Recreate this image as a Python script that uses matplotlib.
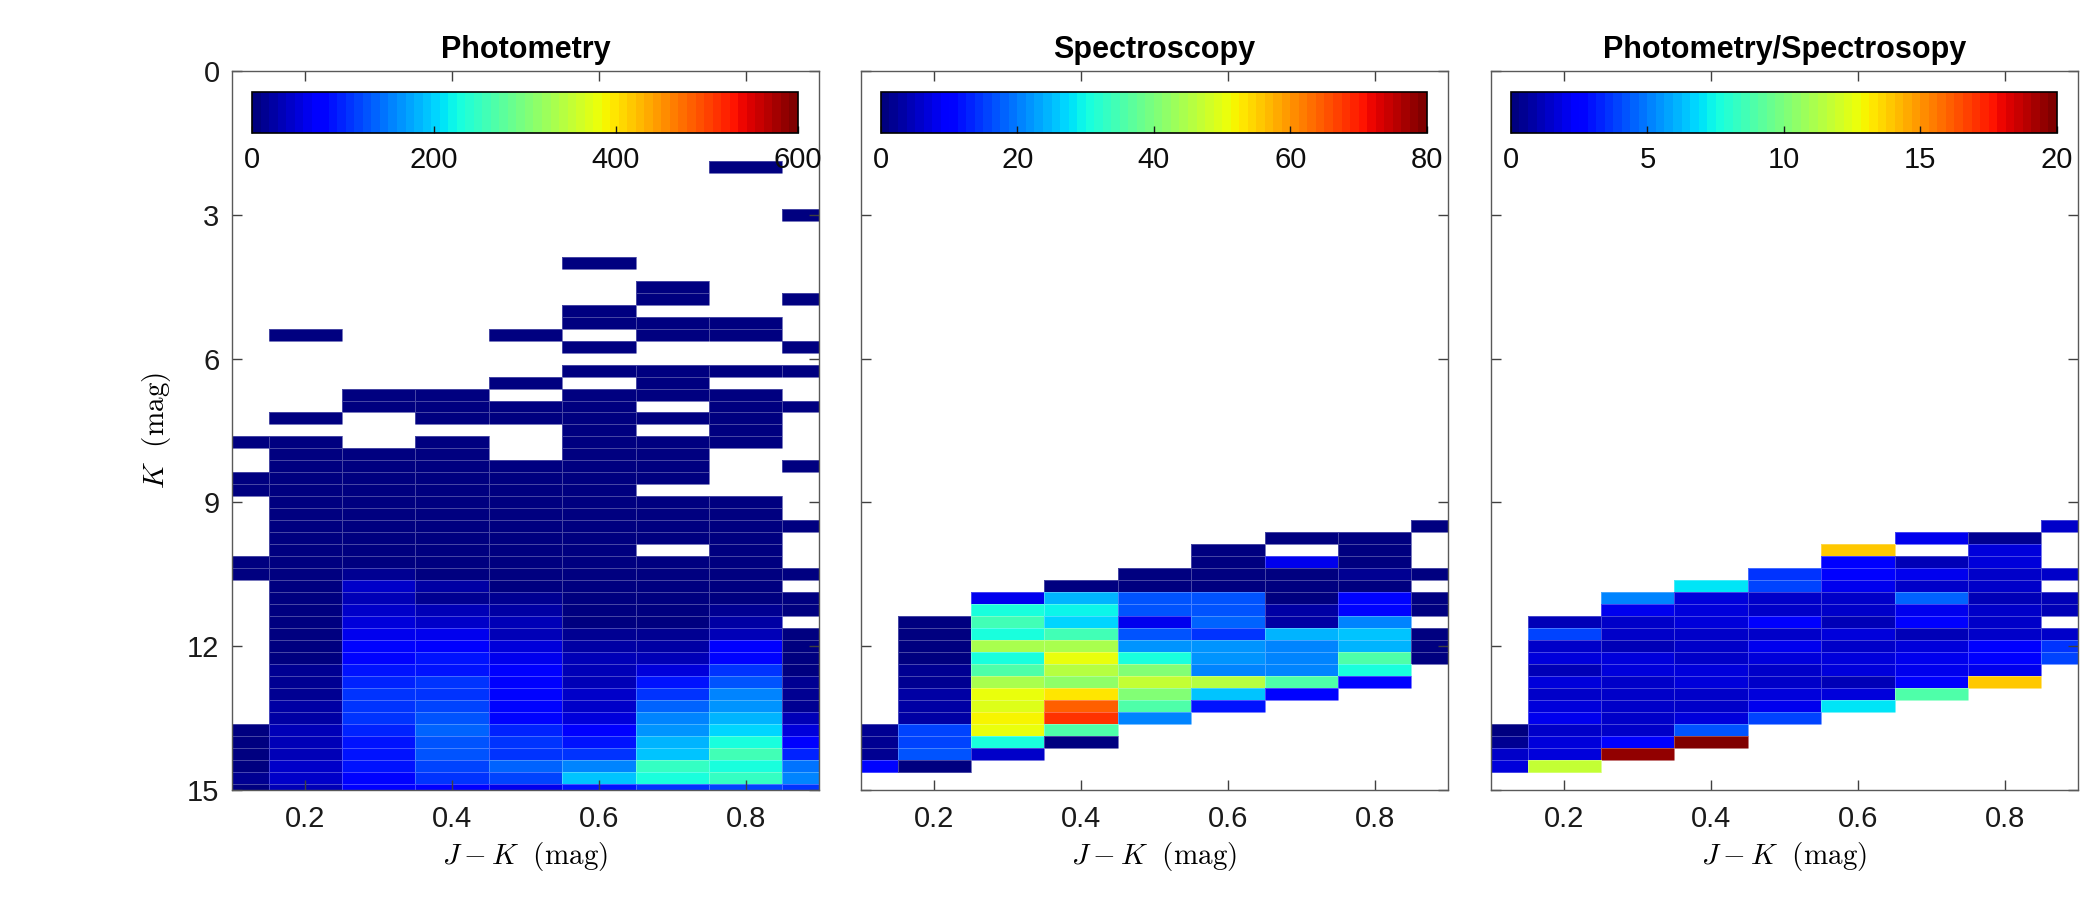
import numpy as np
import matplotlib
matplotlib.use('Agg')
import matplotlib.pyplot as plt

plt.rcParams['font.family'] = ['Liberation Sans', 'DejaVu Sans']
plt.rcParams['mathtext.fontset'] = 'cm'

# J-K colour bins (0.1 wide) and K magnitude bins (0.25 wide), given as bin centres
jk_centers = [0.1, 0.2, 0.3, 0.4, 0.5, 0.6, 0.7, 0.8, 0.9]
k_centers_phot = list(np.arange(2.0, 15.01, 0.25))
k_centers_spec = list(np.arange(9.5, 14.51, 0.25))

# counts per cell (rows = K bins, cols = J-K bins); 0 = empty cell
photometry = [
    [0, 0, 0, 0, 0, 0, 0, 5, 0],        # 2.00
    [0, 0, 0, 0, 0, 0, 0, 0, 0],
    [0, 0, 0, 0, 0, 0, 0, 0, 0],
    [0, 0, 0, 0, 0, 0, 0, 0, 0],
    [0, 0, 0, 0, 0, 0, 0, 0, 5],        # 3.00
    [0, 0, 0, 0, 0, 0, 0, 0, 0],
    [0, 0, 0, 0, 0, 0, 0, 0, 0],
    [0, 0, 0, 0, 0, 0, 0, 0, 0],
    [0, 0, 0, 0, 0, 5, 0, 0, 0],        # 4.00
    [0, 0, 0, 0, 0, 0, 0, 0, 0],
    [0, 0, 0, 0, 0, 0, 5, 0, 0],
    [0, 0, 0, 0, 0, 0, 5, 0, 5],
    [0, 0, 0, 0, 0, 5, 0, 0, 0],        # 5.00
    [0, 0, 0, 0, 0, 5, 5, 5, 0],
    [0, 5, 0, 0, 5, 0, 5, 5, 0],
    [0, 0, 0, 0, 0, 5, 0, 0, 5],
    [0, 0, 0, 0, 0, 0, 0, 0, 0],        # 6.00
    [0, 0, 0, 0, 0, 5, 5, 5, 5],
    [0, 0, 0, 0, 5, 0, 5, 0, 0],
    [0, 0, 5, 5, 0, 5, 5, 5, 0],
    [0, 0, 5, 5, 5, 5, 0, 5, 5],        # 7.00
    [0, 5, 0, 5, 5, 5, 5, 5, 0],
    [0, 0, 0, 0, 0, 5, 0, 5, 0],
    [5, 5, 0, 5, 0, 5, 5, 5, 0],
    [0, 5, 5, 5, 0, 5, 5, 0, 0],        # 8.00
    [0, 5, 5, 5, 5, 5, 5, 0, 5],
    [5, 5, 5, 5, 5, 5, 5, 0, 0],
    [5, 5, 5, 5, 5, 5, 0, 0, 0],
    [0, 6, 6, 6, 6, 6, 6, 5, 0],        # 9.00
    [0, 6, 6, 6, 6, 6, 6, 5, 0],
    [0, 6, 7, 7, 6, 6, 6, 5, 5],
    [0, 7, 7, 7, 7, 6, 6, 6, 0],
    [0, 7, 8, 8, 7, 7, 0, 6, 0],        # 10.00
    [5, 7, 9, 8, 7, 7, 6, 6, 0],
    [5, 8, 15, 9, 8, 7, 7, 6, 5],
    [0, 8, 40, 22, 8, 8, 7, 7, 0],
    [0, 8, 30, 15, 15, 8, 8, 8, 5],     # 11.00
    [0, 8, 45, 37, 22, 8, 8, 15, 5],
    [0, 8, 52, 45, 30, 8, 8, 22, 0],
    [0, 8, 60, 60, 37, 15, 15, 37, 8],
    [0, 8, 75, 67, 50, 22, 22, 67, 5],  # 12.00
    [0, 8, 82, 90, 60, 30, 37, 82, 8],
    [0, 15, 90, 90, 70, 30, 52, 105, 8],
    [0, 15, 97, 105, 67, 37, 90, 127, 15],
    [0, 15, 105, 112, 75, 45, 112, 150, 15],   # 13.00
    [0, 22, 105, 120, 75, 45, 135, 165, 15],
    [0, 22, 105, 127, 82, 52, 150, 180, 37],
    [8, 30, 97, 135, 97, 67, 165, 202, 52],
    [5, 30, 90, 127, 105, 90, 187, 225, 67],   # 14.00
    [5, 37, 90, 127, 112, 112, 195, 255, 97],
    [8, 45, 90, 120, 135, 157, 247, 225, 142],
    [15, 45, 75, 112, 120, 195, 225, 247, 157],
    [5, 30, 67, 67, 60, 90, 112, 120, 105],    # 15.00
]

spectroscopy = [
    [0, 0, 0, 0, 0, 0, 0, 0, 1],        # 9.50
    [0, 0, 0, 0, 0, 0, 1, 1, 0],
    [0, 0, 0, 0, 0, 1, 0, 1, 0],        # 10.00
    [0, 0, 0, 0, 0, 1, 8, 1, 0],
    [0, 0, 0, 0, 1, 1, 1, 2, 1],
    [0, 0, 0, 1, 1, 1, 1, 1, 0],
    [0, 0, 8, 24, 17, 17, 1, 10, 1],    # 11.00
    [0, 0, 30, 29, 17, 17, 3, 11, 1],
    [0, 1, 34, 27, 8, 18, 3, 20, 0],
    [0, 1, 30, 34, 17, 14, 24, 26, 1],
    [0, 1, 44, 44, 22, 22, 20, 24, 1],  # 12.00
    [0, 1, 30, 50, 30, 22, 21, 36, 1],
    [0, 2, 36, 46, 40, 21, 21, 30, 0],
    [0, 2, 44, 42, 47, 45, 36, 10, 0],
    [0, 3, 50, 53, 40, 26, 10, 0, 0],   # 13.00
    [0, 3, 49, 64, 36, 12, 0, 0, 0],
    [0, 3, 52, 68, 21, 0, 0, 0, 0],
    [2, 16, 50, 36, 0, 0, 0, 0, 0],
    [2, 16, 30, 1, 0, 0, 0, 0, 0],      # 14.00
    [2, 17, 5, 0, 0, 0, 0, 0, 0],
    [10, 1, 0, 0, 0, 0, 0, 0, 0],
]

ratio = [
    [0, 0, 0, 0, 0, 0, 0, 0, 1.25],                       # 9.50
    [0, 0, 0, 0, 0, 0, 2.0, 0.5, 0],
    [0, 0, 0, 0, 0, 14, 0, 1.75, 0],                      # 10.00
    [0, 0, 0, 0, 0, 2.25, 1.0, 1.75, 0],
    [0, 0, 0, 0, 3.5, 2.25, 2.0, 1.5, 1.5],
    [0, 0, 0, 7, 3.75, 2.0, 1.5, 1.5, 0],
    [0, 0, 5, 1.75, 1.5, 1.5, 4.5, 1.0, 1.0],             # 11.00
    [0, 0, 2.0, 1.75, 1.25, 1.5, 2.0, 1.5, 1.0],
    [0, 1.0, 1.5, 1.75, 2.25, 1.0, 2.25, 1.25, 0],
    [0, 3.75, 1.25, 1.5, 1.5, 1.75, 1.0, 1.25, 1.5],
    [0, 1.25, 1.0, 1.25, 2.0, 1.25, 1.75, 2.25, 3.5],     # 12.00
    [0, 1.75, 1.75, 1.5, 1.75, 1.75, 2.0, 2.25, 3.75],
    [0, 1.0, 1.75, 1.75, 1.5, 1.75, 2.0, 2.0, 0],
    [0, 1.75, 1.25, 1.75, 1.5, 1.0, 2.25, 14, 0],
    [0, 1.5, 1.5, 1.5, 1.75, 1.75, 9, 0, 0],              # 13.00
    [0, 1.75, 1.5, 1.5, 2.0, 7, 0, 0, 0],
    [0, 2.0, 1.5, 1.75, 4.0, 0, 0, 0, 0],
    [0.25, 1.25, 1.5, 4.25, 0, 0, 0, 0, 0],
    [0.5, 1.75, 2.25, 20, 0, 0, 0, 0, 0],                 # 14.00
    [1.25, 1.75, 19.5, 0, 0, 0, 0, 0, 0],
    [1.75, 11.75, 0, 0, 0, 0, 0, 0, 0],
]

titles = ['Photometry', 'Spectroscopy', 'Photometry/Spectrosopy']
cbar_max = [600, 80, 20]
cbar_ticks = [[0, 200, 400, 600], [0, 20, 40, 60, 80], [0, 5, 10, 15, 20]]


def edges(centers, half):
    c = np.asarray(centers, dtype=float)
    return np.append(c - half, c[-1] + half)


jet = plt.get_cmap('jet', 64)

fig = plt.figure(figsize=(21, 9), dpi=100)
lefts = [0.1105, 0.41, 0.71]
panels = [(k_centers_phot, photometry), (k_centers_spec, spectroscopy),
          (k_centers_spec, ratio)]

for i, (kc, grid) in enumerate(panels):
    ax = fig.add_axes([lefts[i], 0.1222, 0.2795, 0.799])
    data = np.ma.masked_equal(np.array(grid, dtype=float), 0)
    mesh = ax.pcolormesh(edges(jk_centers, 0.05), edges(kc, 0.125), data,
                         cmap=jet, vmin=0, vmax=cbar_max[i],
                         edgecolors=(1, 1, 1, 0.28), linewidth=0.6)
    ax.set_xlim(0.1, 0.9)
    ax.set_ylim(15, 0)
    ax.set_xticks([0.2, 0.4, 0.6, 0.8])
    ax.set_yticks([0, 3, 6, 9, 12, 15])
    ax.tick_params(direction='in', top=True, right=True, length=7, width=1,
                   labelsize=21, color='0.25', labelcolor='0.1')
    ax.tick_params(axis='x', pad=11)
    ax.tick_params(axis='y', pad=9)
    for sp in ax.spines.values():
        sp.set_color('0.35')
        sp.set_linewidth(1)
    if i > 0:
        ax.set_yticklabels([])
    else:
        ax.set_ylabel(r'$K\ \ \mathrm{(mag)}$', fontsize=21)
        ax.yaxis.set_label_coords(-0.1, 0.5)
    ax.set_xlabel(r'$J-K\ \ \mathrm{(mag)}$', fontsize=21)
    ax.xaxis.set_label_coords(0.5, -0.07)
    ax.set_title(titles[i], fontsize=22, fontweight='bold', pad=9)

    # colour bar sits inside the top of each panel
    cax = ax.inset_axes([0.034, 0.913, 0.93, 0.057])
    cb = fig.colorbar(mesh, cax=cax, orientation='horizontal')
    cb.set_ticks(cbar_ticks[i])
    cax.tick_params(direction='in', length=5, width=1, labelsize=21, pad=9,
                    color='0.1', labelcolor='0.05')
    cb.outline.set_edgecolor('black')
    cb.outline.set_linewidth(1.2)

fig.savefig('out.png', dpi=100, facecolor='white')
